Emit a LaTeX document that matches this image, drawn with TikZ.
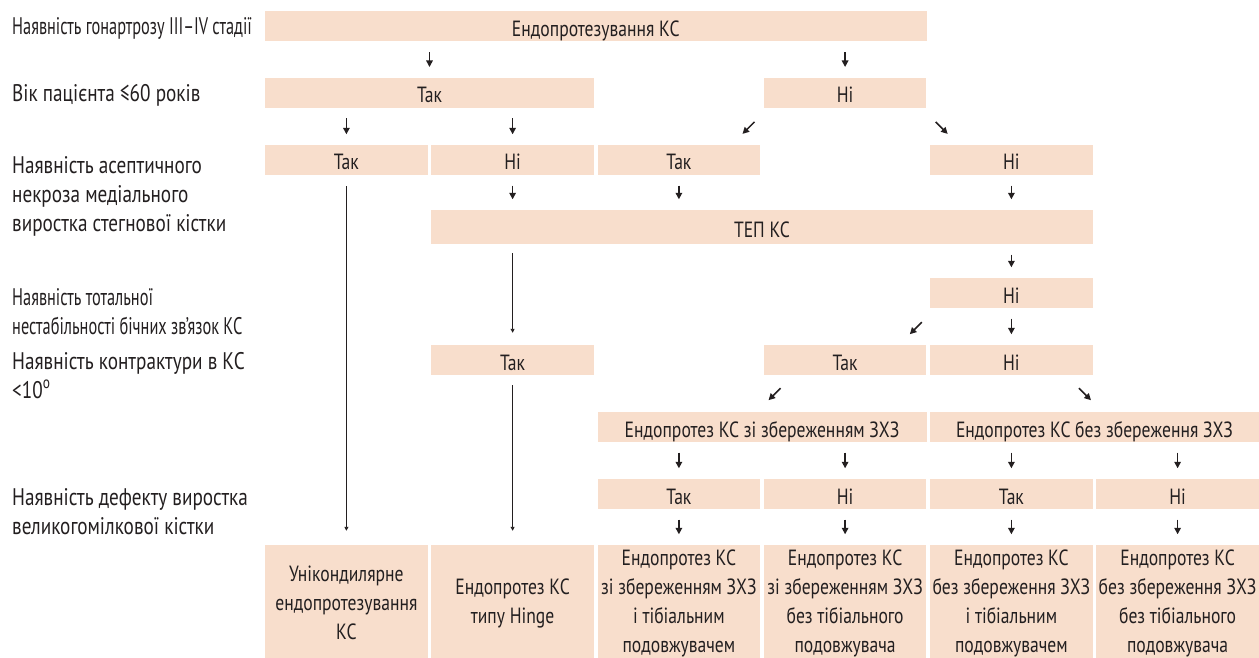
\documentclass[tikz,border=0pt]{standalone}
\usepackage{fontspec}
\setmainfont{PT Sans}[FakeStretch=0.8]
\newfontfamily\tightfont{PT Sans}[FakeStretch=0.68]
\usepackage{xcolor}
\usetikzlibrary{arrows.meta,positioning,calc}

\definecolor{peach}{HTML}{F8DECC}
\definecolor{ink}{HTML}{231F20}

\begin{document}
\begin{tikzpicture}[x=1pt, y=-1pt,
  box/.style={fill=peach, minimum width=#1, minimum height=30pt, inner sep=0pt,
              text=ink, text height=20pt, text depth=0pt,
              font=\fontsize{22}{29}\selectfont},
  box/.default=162.75pt,
  leaf/.style={fill=peach, minimum width=162.75pt, minimum height=116pt, inner sep=0pt,
               align=center, text=ink, font=\fontsize{22}{29}\selectfont},
  stub/.style={-{Triangle[length=6.5pt,width=6.5pt]}, line width=1.5pt, ink,
               shorten <=10.5pt, shorten >=10.5pt},
  slant/.style={-{Triangle[length=6.5pt,width=6.5pt]}, line width=1.5pt, ink},
  long/.style={-{Triangle[length=4pt,width=4pt]}, line width=0.9pt, ink},
  lbl/.style={anchor=base west, align=left, inner sep=0pt, text=ink,
              font=\fontsize{24}{29}\selectfont}
]
\useasboundingbox (0,0) rectangle (1259,658);

%% ---- Left column: criteria (base = last line) ----
\node[lbl] (q1) at (12,35)  {\tightfont Наявність гонартрозу III–IV стадії};
\node[lbl] (q2) at (12,102) {Вік пацієнта ≤60 років};
\node[lbl] (q3) at (12,231) {Наявність асептичного\\некроза медіального\\виростка стегнової кістки};
\node[lbl] (q4) at (12,334) {\tightfont Наявність тотальної\\\tightfont нестабільності бічних зв’язок КС};
\node[lbl] (q5) at (12,398) {Наявність контрактури в КС\\<10\textsuperscript{o}};
\node[lbl] (q6) at (12,534) {Наявність дефекту виростка\\великогомілкової кістки};

%% ---- Row 1, 2 ----
\node[box=661.5pt] (top) at (595.75,26.5) {Ендопротезування КС};
\node[box=329pt]   (r2t) at (429.5,92.7)  {Так};
\node[box]         (r2n) at (845.1,92.7)  {Ні};

%% ---- Row 3 ----
\node[box] (r3a) at (346.4,160) {Так};
\node[box] (r3b) at (512.6,160) {Ні};
\node[box] (r3c) at (678.9,160) {Так};
\node[box] (r3e) at (1011.4,160) {Ні};

%% ---- Row 4, 5 ----
\node[box=661.5pt, minimum height=34pt, text height=21pt] (tep) at (762,227) {ТЕП КС};
\node[box] (r5n) at (1011.4,293) {Ні};

%% ---- Row 6 ----
\node[box] (r6b) at (512.6,360)  {Так};
\node[box] (r6d) at (845.1,360)  {Так};
\node[box] (r6e) at (1011.4,360) {Ні};

%% ---- Row 7, 8 ----
\node[box=329pt] (r7l) at (762,427)    {Ендопротез КС зі збереженням ЗХЗ};
\node[box=329pt] (r7r) at (1094.5,427) {Ендопротез КС без збереження ЗХЗ};
\node[box] (r8c) at (678.9,494)  {Так};
\node[box] (r8d) at (845.1,494)  {Ні};
\node[box] (r8e) at (1011.4,494) {Так};
\node[box] (r8f) at (1177.6,494) {Ні};

%% ---- Row 9: outcomes ----
\node[leaf] (f1) at (346.4,603)  {Унікондилярне\\ендопротезування\\КС};
\node[leaf] (f2) at (512.6,603)  {Ендопротез КС\\типу Hinge};
\node[leaf] (f3) at (678.9,603)  {Ендопротез КС\\зі збереженням ЗХЗ\\і тібіальним\\подовжувачем};
\node[leaf] (f4) at (845.1,603)  {Ендопротез КС\\зі збереженням ЗХЗ\\без тібіального\\подовжувача};
\node[leaf] (f5) at (1011.4,603) {Ендопротез КС\\без збереження ЗХЗ\\і тібіальним\\подовжувачем};
\node[leaf] (f6) at (1177.6,603) {Ендопротез КС\\без збереження ЗХЗ\\без тібіального\\подовжувача};

%% Short arrows from a wide box down to a narrow one
\foreach \a/\b in {top/r2t, top/r2n, r2t/r3a, r2t/r3b, tep/r5n,
                   r7l/r8c, r7l/r8d, r7r/r8e, r7r/r8f}
  \draw[stub] (\a.south -| \b.north) -- (\b.north);

%% Short arrows from a narrow box down to a wide one
\foreach \a/\b in {r3b/tep, r3c/tep, r3e/tep, r5n/r6e,
                   r8c/f3, r8d/f4, r8e/f5, r8f/f6}
  \draw[stub] (\a.south) -- (\a.south |- \b.north);

%% Slanted arrows
\draw[slant] ([shift={(-9,14)}]r2n.south west) -- ++(-12,12);
\draw[slant] ([shift={(9,14)}]r2n.south east) -- ++(12,12);
\draw[slant] ([shift={(-8,14)}]r5n.south west) -- ++(-12,12);
\draw[slant] ([shift={(17,13)}]r6d.south west) -- ++(-12,12);
\draw[slant] ([shift={(-14,13)}]r6e.south east) -- ++(12,12);

%% Long arrows
\draw[long, shorten <=11pt, shorten >=14pt] (r3a.south) -- (f1.north);
\draw[long, shorten <=9pt, shorten >=12pt] (tep.south -| r6b.north) -- (r6b.north);
\draw[long, shorten <=10pt, shorten >=14pt] (r6b.south) -- (f2.north);

\end{tikzpicture}
\end{document}
